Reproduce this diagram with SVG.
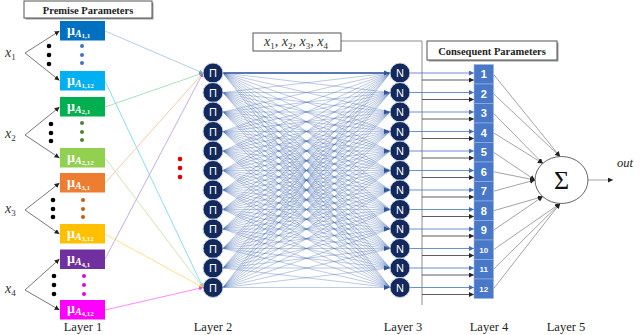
<svg xmlns="http://www.w3.org/2000/svg" width="640" height="335" viewBox="0 0 640 335">
<style>
.lbl{font-family:"Liberation Serif",serif;font-size:12.5px;fill:#222;text-anchor:middle}
.title{font-family:"Liberation Serif",serif;font-weight:bold;font-size:10.5px;fill:#222;text-anchor:middle}
.tbox{fill:#fff;stroke:#555;stroke-width:1}
.shadow{fill:#9a9a9a}
.xv{font-family:"Liberation Serif",serif;font-style:italic;font-size:14px;fill:#333}
.sub{font-size:9px;font-style:normal}
.mu{font-family:"Liberation Serif",serif;font-size:14px;fill:#fff;font-weight:bold}
.sA{font-style:italic;font-size:10px}
.ss{font-size:7px}
.node{fill:#13295B;stroke:#c8d2e6;stroke-width:1}
.nt{font-family:"Liberation Sans",sans-serif;font-size:11px;fill:#fff;text-anchor:middle}
.l4{fill:#4A78C8;stroke:#9DB5E0;stroke-width:0.6}
.l4t{font-family:"Liberation Sans",sans-serif;font-weight:bold;font-size:11px;fill:#fff;text-anchor:middle}
.l4s{font-size:8px}
.mesh{fill:none;stroke:#4068B3;stroke-width:0.5;stroke-opacity:0.7}
.gray{stroke:#555;stroke-width:0.8;fill:none}
.blk{stroke:#333;stroke-width:0.8;fill:none}
.blu{stroke:#5B82C9;stroke-width:0.9;fill:none}
.thin{stroke:#666;stroke-width:0.6;fill:none}
</style>
<defs>
<marker id="ak" viewBox="0 0 6 6" refX="6" refY="3" markerWidth="5" markerHeight="5" orient="auto" markerUnits="userSpaceOnUse"><path d="M0,0L6,3L0,6z" fill="#222"/></marker>
<marker id="ab" viewBox="0 0 6 6" refX="6" refY="3" markerWidth="5" markerHeight="5" orient="auto" markerUnits="userSpaceOnUse"><path d="M0,0L6,3L0,6z" fill="#3E6BC0"/></marker>
<marker id="c1" viewBox="0 0 6 6" refX="6" refY="3" markerWidth="4" markerHeight="4" orient="auto" markerUnits="userSpaceOnUse"><path d="M0,0L6,3L0,6z" fill="#7FA8DA"/></marker>
<marker id="c2" viewBox="0 0 6 6" refX="6" refY="3" markerWidth="4" markerHeight="4" orient="auto" markerUnits="userSpaceOnUse"><path d="M0,0L6,3L0,6z" fill="#49C6F2"/></marker>
<marker id="c3" viewBox="0 0 6 6" refX="6" refY="3" markerWidth="4" markerHeight="4" orient="auto" markerUnits="userSpaceOnUse"><path d="M0,0L6,3L0,6z" fill="#39B46A"/></marker>
<marker id="c4" viewBox="0 0 6 6" refX="6" refY="3" markerWidth="4" markerHeight="4" orient="auto" markerUnits="userSpaceOnUse"><path d="M0,0L6,3L0,6z" fill="#A6D77A"/></marker>
<marker id="c5" viewBox="0 0 6 6" refX="6" refY="3" markerWidth="4" markerHeight="4" orient="auto" markerUnits="userSpaceOnUse"><path d="M0,0L6,3L0,6z" fill="#F2A06A"/></marker>
<marker id="c6" viewBox="0 0 6 6" refX="6" refY="3" markerWidth="4" markerHeight="4" orient="auto" markerUnits="userSpaceOnUse"><path d="M0,0L6,3L0,6z" fill="#FFC72A"/></marker>
<marker id="c7" viewBox="0 0 6 6" refX="6" refY="3" markerWidth="4" markerHeight="4" orient="auto" markerUnits="userSpaceOnUse"><path d="M0,0L6,3L0,6z" fill="#9A6CC7"/></marker>
<marker id="c8" viewBox="0 0 6 6" refX="6" refY="3" markerWidth="4" markerHeight="4" orient="auto" markerUnits="userSpaceOnUse"><path d="M0,0L6,3L0,6z" fill="#FF3DFF"/></marker>
</defs>
<rect width="640" height="335" fill="#fff"/>

<g id="connectors">
  <path class="gray" d="M25 53L59.5 31" marker-end="url(#ak)"/>
  <path class="gray" d="M25 53L59.5 80.5" marker-end="url(#ak)"/>
  <path class="gray" d="M25 135L59.5 107" marker-end="url(#ak)"/>
  <path class="gray" d="M25 135L59.5 158" marker-end="url(#ak)"/>
  <path class="gray" d="M25 210L59.5 183" marker-end="url(#ak)"/>
  <path class="gray" d="M25 210L59.5 234" marker-end="url(#ak)"/>
  <path class="gray" d="M25 290L59.5 259" marker-end="url(#ak)"/>
  <path class="gray" d="M25 290L59.5 310" marker-end="url(#ak)"/>
  <path d="M105 31L203 73" stroke="#9DC0E6" stroke-width="0.8" fill="none" marker-end="url(#c1)"/>
  <path d="M105 81L203 287.5" stroke="#6FD2F6" stroke-width="0.8" fill="none" marker-end="url(#c2)"/>
  <path d="M105 107L203 73" stroke="#9AD6A8" stroke-width="0.8" fill="none" marker-end="url(#c3)"/>
  <path d="M105 158L203 287.5" stroke="#BEE09F" stroke-width="0.8" fill="none" marker-end="url(#c4)"/>
  <path d="M105 183L203 73" stroke="#F6BC94" stroke-width="0.8" fill="none" marker-end="url(#c5)"/>
  <path d="M105 234L203 287.5" stroke="#FFD873" stroke-width="0.8" fill="none" marker-end="url(#c6)"/>
  <path d="M105 259L203 73" stroke="#B79AD9" stroke-width="0.8" fill="none" marker-end="url(#c7)"/>
  <path d="M105 310L203 287.5" stroke="#FF6BFF" stroke-width="0.8" fill="none" marker-end="url(#c8)"/>
  <path class="mesh" d="M223 73 390 73M223 73 390 92.5M223 73 390 112M223 73 390 131.5M223 73 390 151M223 73 390 170.5M223 73 390 190M223 73 390 209.5M223 73 390 229M223 73 390 248.5M223 73 390 268M223 73 390 287.5"/>
  <path class="mesh" d="M223 92.5 390 73M223 92.5 390 92.5M223 92.5 390 112M223 92.5 390 131.5M223 92.5 390 151M223 92.5 390 170.5M223 92.5 390 190M223 92.5 390 209.5M223 92.5 390 229M223 92.5 390 248.5M223 92.5 390 268M223 92.5 390 287.5"/>
  <path class="mesh" d="M223 112 390 73M223 112 390 92.5M223 112 390 112M223 112 390 131.5M223 112 390 151M223 112 390 170.5M223 112 390 190M223 112 390 209.5M223 112 390 229M223 112 390 248.5M223 112 390 268M223 112 390 287.5"/>
  <path class="mesh" d="M223 131.5 390 73M223 131.5 390 92.5M223 131.5 390 112M223 131.5 390 131.5M223 131.5 390 151M223 131.5 390 170.5M223 131.5 390 190M223 131.5 390 209.5M223 131.5 390 229M223 131.5 390 248.5M223 131.5 390 268M223 131.5 390 287.5"/>
  <path class="mesh" d="M223 151 390 73M223 151 390 92.5M223 151 390 112M223 151 390 131.5M223 151 390 151M223 151 390 170.5M223 151 390 190M223 151 390 209.5M223 151 390 229M223 151 390 248.5M223 151 390 268M223 151 390 287.5"/>
  <path class="mesh" d="M223 170.5 390 73M223 170.5 390 92.5M223 170.5 390 112M223 170.5 390 131.5M223 170.5 390 151M223 170.5 390 170.5M223 170.5 390 190M223 170.5 390 209.5M223 170.5 390 229M223 170.5 390 248.5M223 170.5 390 268M223 170.5 390 287.5"/>
  <path class="mesh" d="M223 190 390 73M223 190 390 92.5M223 190 390 112M223 190 390 131.5M223 190 390 151M223 190 390 170.5M223 190 390 190M223 190 390 209.5M223 190 390 229M223 190 390 248.5M223 190 390 268M223 190 390 287.5"/>
  <path class="mesh" d="M223 209.5 390 73M223 209.5 390 92.5M223 209.5 390 112M223 209.5 390 131.5M223 209.5 390 151M223 209.5 390 170.5M223 209.5 390 190M223 209.5 390 209.5M223 209.5 390 229M223 209.5 390 248.5M223 209.5 390 268M223 209.5 390 287.5"/>
  <path class="mesh" d="M223 229 390 73M223 229 390 92.5M223 229 390 112M223 229 390 131.5M223 229 390 151M223 229 390 170.5M223 229 390 190M223 229 390 209.5M223 229 390 229M223 229 390 248.5M223 229 390 268M223 229 390 287.5"/>
  <path class="mesh" d="M223 248.5 390 73M223 248.5 390 92.5M223 248.5 390 112M223 248.5 390 131.5M223 248.5 390 151M223 248.5 390 170.5M223 248.5 390 190M223 248.5 390 209.5M223 248.5 390 229M223 248.5 390 248.5M223 248.5 390 268M223 248.5 390 287.5"/>
  <path class="mesh" d="M223 268 390 73M223 268 390 92.5M223 268 390 112M223 268 390 131.5M223 268 390 151M223 268 390 170.5M223 268 390 190M223 268 390 209.5M223 268 390 229M223 268 390 248.5M223 268 390 268M223 268 390 287.5"/>
  <path class="mesh" d="M223 287.5 390 73M223 287.5 390 92.5M223 287.5 390 112M223 287.5 390 131.5M223 287.5 390 151M223 287.5 390 170.5M223 287.5 390 190M223 287.5 390 209.5M223 287.5 390 229M223 287.5 390 248.5M223 287.5 390 268M223 287.5 390 287.5"/>
  <path d="M223 73L390 73" stroke="#2F5597" stroke-width="1.3" fill="none"/>
  <g fill="#2F5597">
    <path d="M384 70.5L390 73L384 75.5z"/><path d="M384 90L390 92.5L384 95z"/><path d="M384 109.5L390 112L384 114.5z"/><path d="M384 129L390 131.5L384 134z"/><path d="M384 148.5L390 151L384 153.5z"/><path d="M384 168L390 170.5L384 173z"/><path d="M384 187.5L390 190L384 192.5z"/><path d="M384 207L390 209.5L384 212z"/><path d="M384 226.5L390 229L384 231.5z"/><path d="M384 246L390 248.5L384 251z"/><path d="M384 265.5L390 268L384 270.5z"/><path d="M384 285L390 287.5L384 290z"/>
  </g>
  <path d="M341 41H422V305" stroke="#8c8c8c" stroke-width="1" fill="none"/>
  <path class="blu" d="M410 73H474" marker-end="url(#ab)"/>
  <path class="blu" d="M410 92.5H474" marker-end="url(#ab)"/>
  <path class="blu" d="M410 112H474" marker-end="url(#ab)"/>
  <path class="blu" d="M410 131.5H474" marker-end="url(#ab)"/>
  <path class="blu" d="M410 151H474" marker-end="url(#ab)"/>
  <path class="blu" d="M410 170.5H474" marker-end="url(#ab)"/>
  <path class="blu" d="M410 190H474" marker-end="url(#ab)"/>
  <path class="blu" d="M410 209.5H474" marker-end="url(#ab)"/>
  <path class="blu" d="M410 229H474" marker-end="url(#ab)"/>
  <path class="blu" d="M410 248.5H474" marker-end="url(#ab)"/>
  <path class="blu" d="M410 268H474" marker-end="url(#ab)"/>
  <path class="blu" d="M410 287.5H474" marker-end="url(#ab)"/>
  <path class="blk" d="M422 80H474" marker-end="url(#ak)"/>
  <path class="blk" d="M422 99.5H474" marker-end="url(#ak)"/>
  <path class="blk" d="M422 119H474" marker-end="url(#ak)"/>
  <path class="blk" d="M422 138.5H474" marker-end="url(#ak)"/>
  <path class="blk" d="M422 158H474" marker-end="url(#ak)"/>
  <path class="blk" d="M422 177.5H474" marker-end="url(#ak)"/>
  <path class="blk" d="M422 197H474" marker-end="url(#ak)"/>
  <path class="blk" d="M422 216.5H474" marker-end="url(#ak)"/>
  <path class="blk" d="M422 236H474" marker-end="url(#ak)"/>
  <path class="blk" d="M422 255.5H474" marker-end="url(#ak)"/>
  <path class="blk" d="M422 275H474" marker-end="url(#ak)"/>
  <path class="blk" d="M422 294.5H474" marker-end="url(#ak)"/>
  <path class="thin" d="M493.5 74.25L560 156.5" marker-end="url(#ak)"/>
  <path class="thin" d="M493.5 93.75L560 156.5" marker-end="url(#ak)"/>
  <path class="thin" d="M493.5 113.25L542.8 163.4" marker-end="url(#ak)"/>
  <path class="thin" d="M493.5 132.75L542.8 163.4" marker-end="url(#ak)"/>
  <path class="thin" d="M493.5 152.25L535 180" marker-end="url(#ak)"/>
  <path class="thin" d="M493.5 171.75L535 180" marker-end="url(#ak)"/>
  <path class="thin" d="M493.5 191.25L535 180" marker-end="url(#ak)"/>
  <path class="thin" d="M493.5 210.75L542.8 196.6" marker-end="url(#ak)"/>
  <path class="thin" d="M493.5 230.25L542.8 196.6" marker-end="url(#ak)"/>
  <path class="thin" d="M493.5 249.75L560 203.5" marker-end="url(#ak)"/>
  <path class="thin" d="M493.5 269.25L560 203.5" marker-end="url(#ak)"/>
  <path class="thin" d="M493.5 288.75L560 203.5" marker-end="url(#ak)"/>
  <path class="thin" d="M588 180H613" marker-end="url(#ak)"/>
</g>

<g id="premise-title">
  <rect class="shadow" x="25.5" y="2.5" width="128" height="17"/>
  <rect class="tbox" x="24" y="1" width="128" height="17"/>
  <text class="title" x="88" y="13.5">Premise Parameters</text>
</g>

<g id="x1"><text class="xv" x="5" y="57">x<tspan class="sub" dy="3">1</tspan></text></g>
<g id="x2"><text class="xv" x="5" y="138">x<tspan class="sub" dy="3">2</tspan></text></g>
<g id="x3"><text class="xv" x="5" y="213">x<tspan class="sub" dy="3">3</tspan></text></g>
<g id="x4"><text class="xv" x="5" y="293">x<tspan class="sub" dy="3">4</tspan></text></g>

<g id="mA11"><rect x="60" y="21" width="45" height="19.5" fill="#0070C0"/><text class="mu" x="67" y="34.5">μ<tspan class="sA" dy="2">A</tspan><tspan class="ss" dy="1.5">1,1</tspan></text></g>
<g id="mA112"><rect x="60" y="71" width="45" height="19.5" fill="#00B0F0"/><text class="mu" x="67" y="84.5">μ<tspan class="sA" dy="2">A</tspan><tspan class="ss" dy="1.5">1,12</tspan></text></g>
<g id="mA21"><rect x="60" y="97" width="45" height="19.5" fill="#00B050"/><text class="mu" x="67" y="110.5">μ<tspan class="sA" dy="2">A</tspan><tspan class="ss" dy="1.5">2,1</tspan></text></g>
<g id="mA212"><rect x="60" y="148" width="45" height="19.5" fill="#92D050"/><text class="mu" x="67" y="161.5">μ<tspan class="sA" dy="2">A</tspan><tspan class="ss" dy="1.5">2,12</tspan></text></g>
<g id="mA31"><rect x="60" y="173" width="45" height="19.5" fill="#ED7D31"/><text class="mu" x="67" y="186.5">μ<tspan class="sA" dy="2">A</tspan><tspan class="ss" dy="1.5">3,1</tspan></text></g>
<g id="mA312"><rect x="60" y="224" width="45" height="19.5" fill="#FFC000"/><text class="mu" x="67" y="237.5">μ<tspan class="sA" dy="2">A</tspan><tspan class="ss" dy="1.5">3,12</tspan></text></g>
<g id="mA41"><rect x="60" y="249.5" width="45" height="19.5" fill="#7030A0"/><text class="mu" x="67" y="263">μ<tspan class="sA" dy="2">A</tspan><tspan class="ss" dy="1.5">4,1</tspan></text></g>
<g id="mA412"><rect x="60" y="300" width="45" height="19.5" fill="#FF00FF"/><text class="mu" x="67" y="312.5">μ<tspan class="sA" dy="2">A</tspan><tspan class="ss" dy="1.5">4,12</tspan></text></g>

<g id="ellipsis-dots">
  <g fill="#000"><circle cx="49" cy="46" r="2.3"/><circle cx="49" cy="55" r="2.3"/><circle cx="49" cy="64" r="2.3"/>
  <circle cx="51" cy="124" r="2.3"/><circle cx="51" cy="133" r="2.3"/><circle cx="51" cy="141" r="2.3"/>
  <circle cx="53" cy="200" r="2.3"/><circle cx="53" cy="209" r="2.3"/><circle cx="53" cy="217" r="2.3"/>
  <circle cx="54" cy="276" r="2.3"/><circle cx="54" cy="285" r="2.3"/><circle cx="54" cy="294" r="2.3"/></g>
  <g fill="#4472C4"><circle cx="82" cy="46" r="2"/><circle cx="82" cy="55" r="2"/><circle cx="82" cy="63" r="2"/></g>
  <g fill="#548235"><circle cx="82" cy="123" r="2"/><circle cx="82" cy="132" r="2"/><circle cx="82" cy="140" r="2"/></g>
  <g fill="#C55A11"><circle cx="83" cy="200" r="2"/><circle cx="83" cy="209" r="2"/><circle cx="83" cy="217" r="2"/></g>
  <g fill="#E600E6"><circle cx="84" cy="276" r="2"/><circle cx="84" cy="285" r="2"/><circle cx="84" cy="294" r="2"/></g>
  <g fill="#E00000"><circle cx="180" cy="159" r="2.3"/><circle cx="180" cy="168" r="2.3"/><circle cx="180" cy="177" r="2.3"/></g>
</g>

<g id="layer2">
  <g id="p1"><circle class="node" cx="213" cy="73" r="10"/><text class="nt" x="213" y="77">Π</text></g>
  <g id="p2"><circle class="node" cx="213" cy="92.5" r="10"/><text class="nt" x="213" y="96.5">Π</text></g>
  <g id="p3"><circle class="node" cx="213" cy="112" r="10"/><text class="nt" x="213" y="116">Π</text></g>
  <g id="p4"><circle class="node" cx="213" cy="131.5" r="10"/><text class="nt" x="213" y="135.5">Π</text></g>
  <g id="p5"><circle class="node" cx="213" cy="151" r="10"/><text class="nt" x="213" y="155">Π</text></g>
  <g id="p6"><circle class="node" cx="213" cy="170.5" r="10"/><text class="nt" x="213" y="174.5">Π</text></g>
  <g id="p7"><circle class="node" cx="213" cy="190" r="10"/><text class="nt" x="213" y="194">Π</text></g>
  <g id="p8"><circle class="node" cx="213" cy="209.5" r="10"/><text class="nt" x="213" y="213.5">Π</text></g>
  <g id="p9"><circle class="node" cx="213" cy="229" r="10"/><text class="nt" x="213" y="233">Π</text></g>
  <g id="p10"><circle class="node" cx="213" cy="248.5" r="10"/><text class="nt" x="213" y="252.5">Π</text></g>
  <g id="p11"><circle class="node" cx="213" cy="268" r="10"/><text class="nt" x="213" y="272">Π</text></g>
  <g id="p12"><circle class="node" cx="213" cy="287.5" r="10"/><text class="nt" x="213" y="291.5">Π</text></g>
</g>

<g id="layer3">
  <g id="n1"><circle class="node" cx="400" cy="73" r="10"/><text class="nt" x="400" y="77">N</text></g>
  <g id="n2"><circle class="node" cx="400" cy="92.5" r="10"/><text class="nt" x="400" y="96.5">N</text></g>
  <g id="n3"><circle class="node" cx="400" cy="112" r="10"/><text class="nt" x="400" y="116">N</text></g>
  <g id="n4"><circle class="node" cx="400" cy="131.5" r="10"/><text class="nt" x="400" y="135.5">N</text></g>
  <g id="n5"><circle class="node" cx="400" cy="151" r="10"/><text class="nt" x="400" y="155">N</text></g>
  <g id="n6"><circle class="node" cx="400" cy="170.5" r="10"/><text class="nt" x="400" y="174.5">N</text></g>
  <g id="n7"><circle class="node" cx="400" cy="190" r="10"/><text class="nt" x="400" y="194">N</text></g>
  <g id="n8"><circle class="node" cx="400" cy="209.5" r="10"/><text class="nt" x="400" y="213.5">N</text></g>
  <g id="n9"><circle class="node" cx="400" cy="229" r="10"/><text class="nt" x="400" y="233">N</text></g>
  <g id="n10"><circle class="node" cx="400" cy="248.5" r="10"/><text class="nt" x="400" y="252.5">N</text></g>
  <g id="n11"><circle class="node" cx="400" cy="268" r="10"/><text class="nt" x="400" y="272">N</text></g>
  <g id="n12"><circle class="node" cx="400" cy="287.5" r="10"/><text class="nt" x="400" y="291.5">N</text></g>
</g>

<g id="inputs-box">
  <rect class="tbox" x="253" y="33" width="88" height="18" stroke="#7f7f7f"/>
  <text class="xv" x="264" y="46" font-size="12.5">x<tspan class="sub" dy="2.5">1</tspan><tspan dy="-2.5">, x</tspan><tspan class="sub" dy="2.5">2</tspan><tspan dy="-2.5">, x</tspan><tspan class="sub" dy="2.5">3</tspan><tspan dy="-2.5">, x</tspan><tspan class="sub" dy="2.5">4</tspan></text>
</g>

<g id="consequent-title">
  <rect class="shadow" x="428.5" y="42.5" width="130" height="19"/>
  <rect class="tbox" x="427" y="41" width="130" height="19"/>
  <text class="title" x="492" y="54.5">Consequent Parameters</text>
</g>

<g id="layer4">
  <g id="c1b"><rect class="l4" x="474" y="64.5" width="19.5" height="19.5"/><text class="l4t" x="483.75" y="78.25">1</text></g>
  <g id="c2b"><rect class="l4" x="474" y="84" width="19.5" height="19.5"/><text class="l4t" x="483.75" y="97.75">2</text></g>
  <g id="c3b"><rect class="l4" x="474" y="103.5" width="19.5" height="19.5"/><text class="l4t" x="483.75" y="117.25">3</text></g>
  <g id="c4b"><rect class="l4" x="474" y="123" width="19.5" height="19.5"/><text class="l4t" x="483.75" y="136.75">4</text></g>
  <g id="c5b"><rect class="l4" x="474" y="142.5" width="19.5" height="19.5"/><text class="l4t" x="483.75" y="156.25">5</text></g>
  <g id="c6b"><rect class="l4" x="474" y="162" width="19.5" height="19.5"/><text class="l4t" x="483.75" y="175.75">6</text></g>
  <g id="c7b"><rect class="l4" x="474" y="181.5" width="19.5" height="19.5"/><text class="l4t" x="483.75" y="195.25">7</text></g>
  <g id="c8b"><rect class="l4" x="474" y="201" width="19.5" height="19.5"/><text class="l4t" x="483.75" y="214.75">8</text></g>
  <g id="c9b"><rect class="l4" x="474" y="220.5" width="19.5" height="19.5"/><text class="l4t" x="483.75" y="234.25">9</text></g>
  <g id="c10b"><rect class="l4" x="474" y="240" width="19.5" height="19.5"/><text class="l4t l4s" x="483.75" y="252.75">10</text></g>
  <g id="c11b"><rect class="l4" x="474" y="259.5" width="19.5" height="19.5"/><text class="l4t l4s" x="483.75" y="272.25">11</text></g>
  <g id="c12b"><rect class="l4" x="474" y="279" width="19.5" height="19.5"/><text class="l4t l4s" x="483.75" y="291.75">12</text></g>
</g>

<g id="sum">
  <ellipse cx="561.5" cy="180" rx="26.5" ry="23.5" fill="#fff" stroke="#555" stroke-width="0.9"/>
  <text x="561.5" y="189" font-family="Liberation Serif, serif" font-size="26" text-anchor="middle" fill="#111">Σ</text>
</g>
<g id="out"><text x="617" y="167" font-family="Liberation Serif, serif" font-style="italic" font-size="12.5" fill="#222">out</text></g>

<g id="layer-labels">
  <text class="lbl" x="83" y="331">Layer 1</text>
  <text class="lbl" x="213" y="331">Layer 2</text>
  <text class="lbl" x="403" y="331">Layer 3</text>
  <text class="lbl" x="489" y="331">Layer 4</text>
  <text class="lbl" x="566" y="331">Layer 5</text>
</g>
</svg>
